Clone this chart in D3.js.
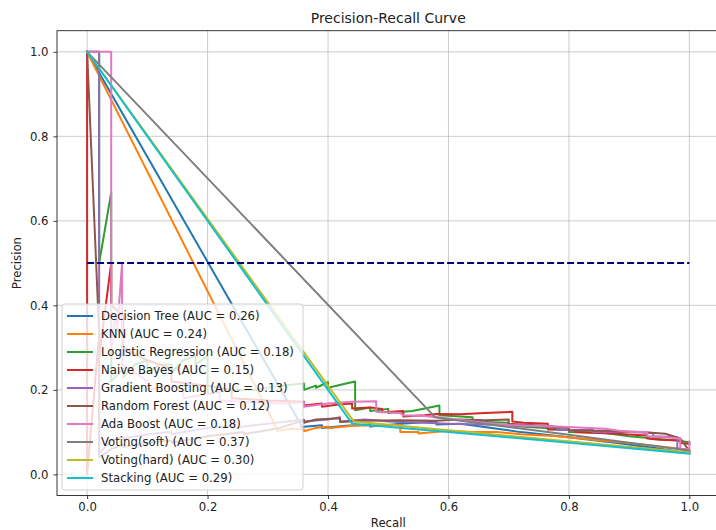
<!DOCTYPE html>
<html>
<head>
<meta charset="utf-8">
<script src="https://cdn.jsdelivr.net/npm/d3@7/dist/d3.min.js"></script>
<style>
  html, body { margin: 0; padding: 0; background: #fff; }
  svg { display: block; font-family: "DejaVu Sans", sans-serif; }
</style>
</head>
<body>
<svg id="chart" width="716" height="530"></svg>
<script>
// ---------------- data ----------------
const modelNames = ["Decision Tree", "KNN", "Logistic Regression", "Naive Bayes",
  "Gradient Boosting", "Random Forest", "Ada Boost", "Voting(soft)", "Voting(hard)", "Stacking"];
const aucValues = [0.26, 0.24, 0.18, 0.15, 0.13, 0.12, 0.18, 0.37, 0.30, 0.29];
const palette = ["#1f77b4", "#ff7f0e", "#2ca02c", "#d62728", "#9467bd",
  "#8c564b", "#e377c2", "#7f7f7f", "#bcbd22", "#17becf"];

// [recall, precision] points
const decisionTree = [[0,1],[0.355,0.118],[0.355,0.112],[0.39,0.116],[0.39,0.11],[0.43,0.115],
  [0.47,0.118],[0.47,0.113],[0.52,0.12],[0.58,0.125],[0.58,0.118],[0.62,0.12],[0.66,0.112],
  [0.72,0.1],[0.8,0.088],[0.88,0.074],[0.94,0.063],[1.0,0.05]];
const knn = [[0,1],[0.315,0.108],[0.315,0.103],[0.34,0.108],[0.36,0.106],[0.36,0.102],[0.38,0.11],
  [0.40,0.113],[0.40,0.109],[0.44,0.115],[0.52,0.117],[0.52,0.1],[0.55,0.1],[0.55,0.097],
  [0.6,0.103],[0.64,0.1],[0.68,0.1],[0.72,0.095],[0.78,0.09],[0.84,0.082],[0.9,0.074],
  [0.96,0.065],[1.0,0.058]];
const logisticRegression = [[0,1],[0.02,1],[0.02,0.5],[0.04,0.667],[0.04,0.22],[0.06,0.25],
  [0.06,0.23],[0.08,0.26],[0.1,0.27],[0.1,0.24],[0.12,0.26],[0.14,0.26],[0.14,0.24],[0.16,0.27],
  [0.18,0.28],[0.18,0.26],[0.2,0.28],[0.2,0.19],[0.24,0.2],[0.28,0.2],[0.32,0.21],[0.36,0.215],
  [0.36,0.2],[0.38,0.21],[0.38,0.205],[0.40,0.218],[0.40,0.205],[0.43,0.215],[0.445,0.22],
  [0.445,0.152],[0.47,0.158],[0.47,0.15],[0.5,0.155],[0.5,0.145],[0.54,0.15],[0.585,0.163],
  [0.585,0.14],[0.64,0.135],[0.64,0.125],[0.7,0.122],[0.7,0.115],[0.76,0.11],[0.8,0.105],
  [0.8,0.1],[0.86,0.098],[0.9,0.09],[0.94,0.085],[0.98,0.08],[1.0,0.076]];
const naiveBayes = [[0,1],[0,0],[0.02,0.33],[0.02,0.28],[0.04,0.5],[0.04,0.4],[0.06,0.375],
  [0.06,0.3],[0.1,0.27],[0.14,0.25],[0.14,0.22],[0.2,0.21],[0.24,0.2],[0.24,0.18],[0.3,0.175],
  [0.36,0.172],[0.36,0.163],[0.39,0.168],[0.39,0.16],[0.42,0.166],[0.44,0.168],[0.44,0.156],
  [0.47,0.158],[0.49,0.155],[0.49,0.147],[0.525,0.15],[0.525,0.137],[0.56,0.14],[0.58,0.143],
  [0.62,0.142],[0.66,0.145],[0.706,0.148],[0.706,0.125],[0.725,0.122],[0.765,0.12],
  [0.765,0.106],[0.81,0.105],[0.81,0.1],[0.87,0.097],[0.93,0.092],[0.93,0.085],[0.95,0.082],
  [0.985,0.08],[0.985,0.074],[1.0,0.072]];
const gradientBoosting = [[0,1],[0.02,1],[0.02,0.05],[0.04,0.08],[0.06,0.09],[0.06,0.085],
  [0.1,0.095],[0.14,0.1],[0.14,0.095],[0.2,0.11],[0.24,0.115],[0.24,0.11],[0.3,0.12],
  [0.36,0.13],[0.36,0.125],[0.4,0.13],[0.42,0.135],[0.42,0.125],[0.46,0.13],[0.48,0.128],
  [0.5,0.125],[0.56,0.122],[0.6,0.12],[0.66,0.118],[0.72,0.115],[0.78,0.112],[0.78,0.105],
  [0.84,0.105],[0.84,0.1],[0.9,0.1],[0.94,0.098],[0.94,0.09],[0.98,0.088],[0.98,0.062],
  [1.0,0.052]];
const randomForest = [[0,1],[0.02,0.333],[0.02,0.04],[0.04,0.06],[0.06,0.07],[0.06,0.065],
  [0.1,0.075],[0.14,0.08],[0.14,0.075],[0.2,0.09],[0.26,0.1],[0.26,0.095],[0.32,0.11],
  [0.36,0.128],[0.36,0.122],[0.38,0.13],[0.42,0.133],[0.42,0.124],[0.46,0.127],[0.52,0.128],
  [0.58,0.127],[0.62,0.13],[0.66,0.128],[0.7,0.13],[0.7,0.12],[0.76,0.115],[0.8,0.11],
  [0.8,0.104],[0.86,0.103],[0.92,0.1],[0.96,0.096],[0.985,0.085],[1.0,0.055]];
const adaBoost = [[0,1],[0.04,1],[0.04,0.3],[0.047,0.38],[0.05,0.34],[0.058,0.5],[0.058,0.26],
  [0.08,0.24],[0.1,0.22],[0.1,0.2],[0.14,0.21],[0.16,0.2],[0.16,0.18],[0.2,0.19],[0.22,0.2],
  [0.22,0.175],[0.28,0.17],[0.32,0.168],[0.36,0.17],[0.36,0.16],[0.4,0.168],[0.44,0.172],
  [0.48,0.173],[0.48,0.148],[0.52,0.145],[0.525,0.14],[0.56,0.138],[0.6,0.132],[0.66,0.122],
  [0.7,0.117],[0.74,0.115],[0.8,0.112],[0.86,0.108],[0.9,0.1],[0.93,0.1],[0.93,0.09],
  [0.96,0.088],[0.985,0.085],[0.985,0.06],[1.0,0.06],[1.0,0.078]];
const votingSoft = [[0,1],[0.578,0.135],[0.62,0.127],[0.7,0.112],[0.8,0.094],[0.9,0.075],
  [0.98,0.06],[1.0,0.056]];
const votingHard = [[0,1],[0.443,0.125],[1.0,0.052]];
const stacking = [[0,1],[0.44,0.12],[0.6,0.1],[0.8,0.075],[1.0,0.049]];

const curves = [decisionTree, knn, logisticRegression, naiveBayes, gradientBoosting,
  randomForest, adaBoost, votingSoft, votingHard, stacking];

const baseline = [[0, 0.5], [1, 0.5]];
const tickValues = [0, 0.2, 0.4, 0.6, 0.8, 1.0];
const axisDomain = [-0.05, 1.05];

// ---------------- drawing ----------------
const svg = d3.select("#chart");
const L = 57, R = 719.5, T = 30.7, B = 495.5;
const x = d3.scaleLinear().domain(axisDomain).range([L, R]);
const y = d3.scaleLinear().domain(axisDomain).range([B, T]);
const fs = 11.7;

svg.append("defs").append("clipPath").attr("id", "clip")
  .append("rect").attr("x", L).attr("y", T).attr("width", R - L).attr("height", B - T);

// grid
const grid = svg.append("g");
grid.selectAll(".gx").data(tickValues).join("line")
  .attr("x1", d => x(d)).attr("x2", d => x(d)).attr("y1", T).attr("y2", B)
  .attr("stroke", "#b0b0b0").attr("stroke-opacity", 0.7).attr("stroke-width", 0.9);
grid.selectAll(".gy").data(tickValues).join("line")
  .attr("y1", d => y(d)).attr("y2", d => y(d)).attr("x1", L).attr("x2", R)
  .attr("stroke", "#b0b0b0").attr("stroke-opacity", 0.7).attr("stroke-width", 0.9);

// curves
const line = d3.line().x(d => x(d[0])).y(d => y(d[1]));
const plot = svg.append("g").attr("clip-path", "url(#clip)");
curves.forEach((c, i) => {
  plot.append("path").attr("d", line(c)).attr("fill", "none")
    .attr("stroke", palette[i]).attr("stroke-width", 2)
    .attr("stroke-linejoin", "round").attr("stroke-linecap", "square");
});
plot.append("path").attr("d", line(baseline)).attr("fill", "none")
  .attr("stroke", "#000080").attr("stroke-width", 2)
  .attr("stroke-dasharray", "7,3");

// axes
const xAxis = d3.axisBottom(x).tickValues(tickValues).tickFormat(d3.format(".1f"))
  .tickSizeInner(3.5).tickSizeOuter(0).tickPadding(3.5);
const yAxis = d3.axisLeft(y).tickValues(tickValues).tickFormat(d3.format(".1f"))
  .tickSizeInner(3.5).tickSizeOuter(0).tickPadding(5);
const gx = svg.append("g").attr("transform", `translate(0,${B})`).call(xAxis);
const gy = svg.append("g").attr("transform", `translate(${L},0)`).call(yAxis);
[gx, gy].forEach(g => {
  g.select(".domain").remove();
  g.selectAll(".tick line").attr("stroke", "#222").attr("stroke-width", 0.9);
  g.selectAll(".tick text").attr("font-size", fs).attr("fill", "#222")
    .attr("font-family", "DejaVu Sans");
});

// spines
const spines = svg.append("g").attr("stroke", "#222").attr("stroke-width", 0.9).attr("fill", "none");
spines.append("rect").attr("x", L).attr("y", T).attr("width", R - L).attr("height", B - T);

// titles
svg.append("text").attr("x", (L + R) / 2).attr("y", 23).attr("text-anchor", "middle")
  .attr("font-size", 14).attr("fill", "#222").text("Precision-Recall Curve");
svg.append("text").attr("x", (L + R) / 2).attr("y", 527).attr("text-anchor", "middle")
  .attr("font-size", fs).attr("fill", "#222").text("Recall");
svg.append("text").attr("transform", `translate(21,${(T + B) / 2}) rotate(-90)`)
  .attr("text-anchor", "middle").attr("font-size", fs).attr("fill", "#222").text("Precision");

// legend
const lg = svg.append("g");
const lx = 62, ly = 304, lw = 241, lh = 186, rowH = 18;
lg.append("rect").attr("x", lx).attr("y", ly).attr("width", lw).attr("height", lh)
  .attr("rx", 3).attr("fill", "#fff").attr("fill-opacity", 0.8)
  .attr("stroke", "#cccccc").attr("stroke-width", 0.9);
modelNames.forEach((name, i) => {
  const cy = ly + 12 + i * rowH;
  lg.append("line").attr("x1", lx + 5).attr("x2", lx + 31).attr("y1", cy).attr("y2", cy)
    .attr("stroke", palette[i]).attr("stroke-width", 2);
  lg.append("text").attr("x", lx + 39).attr("y", cy).attr("dy", "0.36em")
    .attr("font-size", fs).attr("fill", "#222")
    .text(`${name} (AUC = ${aucValues[i].toFixed(2)})`);
});
</script>
</body>
</html>
